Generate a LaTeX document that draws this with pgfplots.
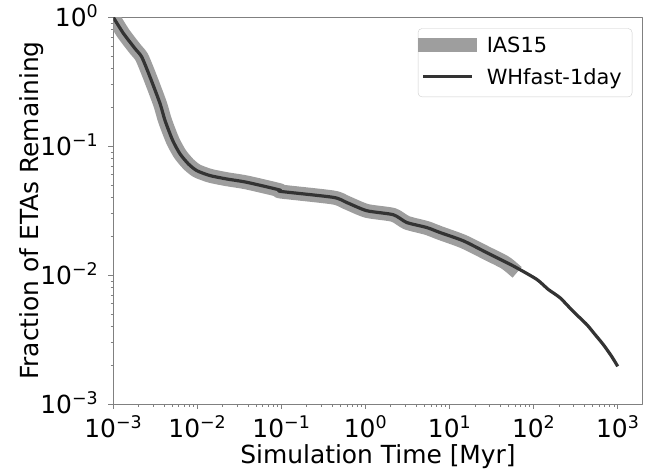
\documentclass[border=0pt]{standalone}
\usepackage{fontspec}
\setmainfont{DejaVu Sans}
\usepackage{pgfplots}
\pgfplotsset{compat=1.18}

\definecolor{iascol}{HTML}{9E9E9E}
\definecolor{whcol}{HTML}{333333}
\definecolor{spine}{HTML}{808080}

\newcommand{\pw}[1]{10\textsuperscript{#1}}

\begin{document}
\begin{tikzpicture}
% fix page size to the reference: axis box at (0,0)
\useasboundingbox (-113.3bp,-66bp) rectangle (541.7bp,404bp);
\begin{axis}[
    xmode=log, ymode=log,
    scale only axis,
    width=529.4bp, height=386.7bp,
    xmin=1e-3, xmax=1982,
    ymin=1e-3, ymax=1,
    axis line style={spine, line width=1bp},
    tick align=outside,
    xtick pos=bottom, ytick pos=left,
    major tick length=4.9bp, minor tick length=2.8bp,
    every tick/.style={spine, line width=1bp},
    minor tick style={spine, line width=0.7bp},
    xtick={1e-3,1e-2,1e-1,1,10,100,1000},
    xticklabels={\pw{−3},\pw{−2},\pw{−1},\pw{0},\pw{1},\pw{2},\pw{3}},
    minor xtick={},
    ytick={1e-3,1e-2,1e-1,1},
    yticklabels={\pw{−3},\pw{−2},\pw{−1},\pw{0}},
    minor ytick={2e-3,3e-3,4e-3,5e-3,6e-3,7e-3,8e-3,9e-3,
                 2e-2,3e-2,4e-2,5e-2,6e-2,7e-2,8e-2,9e-2,
                 2e-1,3e-1,4e-1,5e-1,6e-1,7e-1,8e-1,9e-1},
    ticklabel style={font=\fontsize{25}{30}\selectfont, inner sep=0pt},
    xticklabel style={anchor=base, yshift=-29bp},
    yticklabel style={anchor=base east, xshift=-10bp, yshift=-9.1bp},
    xlabel={Simulation Time [Myr]},
    ylabel={Fraction of ETAs Remaining},
    label style={font=\fontsize{25}{30}\selectfont, inner sep=0pt},
    xlabel style={at={(axis description cs:0.5,-0.1526)}, anchor=base},
    ylabel style={at={(axis description cs:-0.1422,0.5)}, anchor=base},
    legend style={at={(rel axis cs:1,1)}, anchor=north east,
        xshift=-10.4bp, yshift=-11bp,
        draw=black!20, fill=white, rounded corners=4bp,
        font=\fontsize{21}{25}\selectfont,
        inner xsep=0.3bp, inner ysep=2.9bp, row sep=0bp, column sep=0bp,
        nodes={inner sep=0pt, text height=21.5bp, text depth=9.8bp},
        cells={anchor=base west, inner sep=0pt,
               text height=21.5bp, text depth=9.8bp}},
    legend image code/.code={%
        \path[draw=none, fill=none] (0bp,0bp) rectangle (68.4bp,8bp);
        \draw[#1, overlay, sharp corners, line cap=rect]
            (6.3bp,7.7bp) -- (52bp,7.7bp);},
    line join=round,
]
\addplot[iascol, line width=14bp, line cap=rect, smooth, tension=0.4] coordinates {
(0.001,1.0) (0.00132,0.748) (0.00181,0.571) (0.00218,0.490) (0.00273,0.344)
(0.00360,0.213) (0.00412,0.158) (0.00509,0.1105) (0.00621,0.0871)
(0.0078,0.0728) (0.00982,0.0645) (0.0141,0.0590) (0.0223,0.0555)
(0.0387,0.0523) (0.0962,0.0455) (0.098,0.0445) (0.414,0.0400)
(0.597,0.0365) (1.033,0.0315) (2.14,0.0293) (3.09,0.0255) (5.35,0.0232)
(7.69,0.0212) (14.6,0.0182) (27.6,0.0148) (45,0.0126) (55,0.0114)
};
\addlegendentry{IAS15}
\addplot[whcol, line width=3.2bp, smooth, tension=0.4] coordinates {
(0.001,1.0) (0.00132,0.750) (0.00181,0.573) (0.00218,0.492) (0.00273,0.345)
(0.00360,0.214) (0.00412,0.1585) (0.00509,0.1108) (0.00621,0.0873)
(0.0078,0.0730) (0.00982,0.0647) (0.0141,0.0592) (0.0223,0.0557)
(0.0387,0.0525) (0.0962,0.0457) (0.098,0.0446) (0.414,0.0401)
(0.597,0.0366) (1.033,0.0316) (2.14,0.0294) (3.09,0.0256) (5.35,0.0234)
(7.69,0.0214) (14.6,0.01844) (27.6,0.01495) (57.3,0.01177)
(108.7,0.00927) (149,0.00775) (205.9,0.00667) (295,0.00523)
(427.5,0.00414) (537,0.00346) (674,0.00289) (847,0.00234) (1000,0.00196)
};
\addlegendentry{WHfast-1day\hspace*{10bp}}
\end{axis}
\end{tikzpicture}
\end{document}
